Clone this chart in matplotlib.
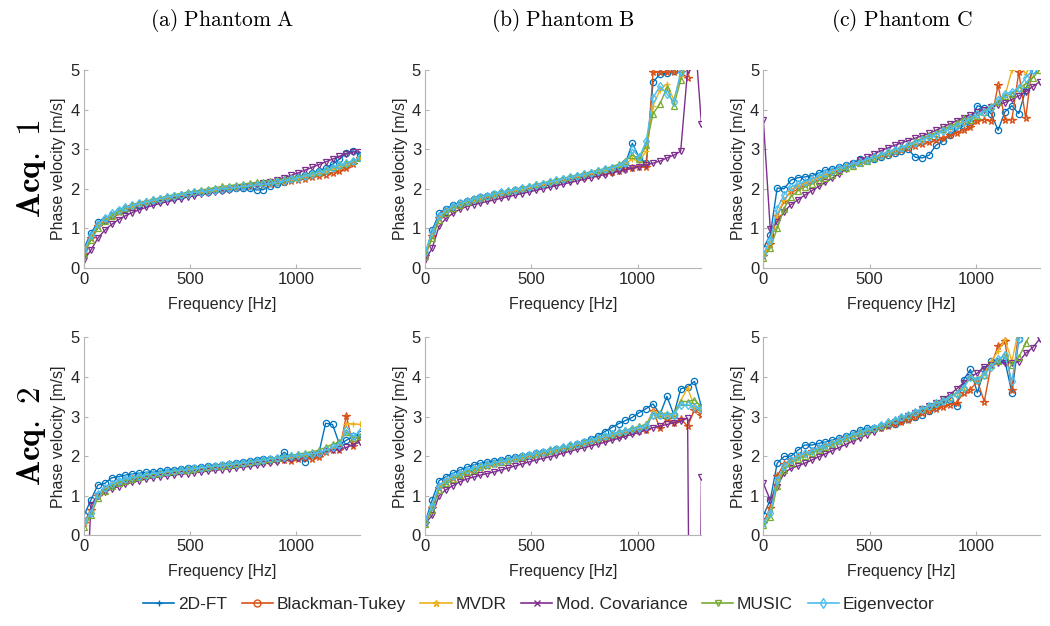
import numpy as np
import matplotlib
matplotlib.use('Agg')
import matplotlib.pyplot as plt
from matplotlib.lines import Line2D

plt.rcParams['font.family'] = ['Liberation Sans', 'DejaVu Sans']
plt.rcParams['mathtext.fontset'] = 'cm'

# frequency grid [Hz]
freq = np.arange(41) * 32.5

methods = ['2D-FT', 'Blackman-Tukey', 'MVDR', 'Mod. Covariance', 'MUSIC', 'Eigenvector']
colors = ['#0072BD', '#D95319', '#EDB120', '#7E2F8E', '#77AC30', '#4DBEEE']
plot_markers = ['o', '*', '+', 'v', '^', 'd']
legend_markers = ['+', 'o', '*', 'x', 'v', 'd']

# ---- Phantom A, Acq. 1
a1_ft = [0.50, 0.88, 1.15, 1.22, 1.35, 1.45, 1.50, 1.55, 1.60, 1.64, 1.68, 1.72, 1.76, 1.80, 1.83, 1.86, 1.89, 1.91, 1.93, 1.96, 1.98,
         2.00, 2.01, 2.02, 2.03, 1.97, 1.98, 2.08, 2.13, 2.18, 2.24, 2.30, 2.35, 2.40, 2.45, 2.52, 2.62, 2.75, 2.90, 2.96, 2.85]
a1_bt = [0.35, 0.75, 1.05, 1.20, 1.32, 1.42, 1.50, 1.56, 1.62, 1.66, 1.70, 1.74, 1.78, 1.81, 1.84, 1.87, 1.90, 1.92, 1.95, 1.97, 2.00,
         2.02, 2.04, 2.06, 2.07, 2.08, 2.10, 2.12, 2.14, 2.17, 2.20, 2.23, 2.26, 2.29, 2.32, 2.36, 2.40, 2.45, 2.52, 2.62, 2.78]
a1_mvdr = [0.40, 0.80, 1.08, 1.22, 1.34, 1.44, 1.51, 1.57, 1.63, 1.67, 1.71, 1.75, 1.79, 1.82, 1.85, 1.88, 1.91, 1.93, 1.96, 1.98, 2.01,
           2.03, 2.05, 2.07, 2.09, 2.11, 2.13, 2.15, 2.18, 2.21, 2.25, 2.28, 2.32, 2.36, 2.40, 2.45, 2.50, 2.56, 2.62, 2.70, 2.80]
a1_mcov = [0.20, 0.45, 0.75, 0.95, 1.10, 1.22, 1.32, 1.40, 1.47, 1.53, 1.58, 1.63, 1.67, 1.71, 1.75, 1.79, 1.82, 1.86, 1.89, 1.92, 1.95,
           1.98, 2.01, 2.04, 2.07, 2.10, 2.14, 2.18, 2.22, 2.28, 2.34, 2.40, 2.47, 2.54, 2.61, 2.68, 2.75, 2.82, 2.88, 2.93, 2.93]
a1_music = [0.35, 0.70, 1.00, 1.18, 1.32, 1.43, 1.51, 1.58, 1.64, 1.69, 1.73, 1.77, 1.81, 1.85, 1.88, 1.91, 1.94, 1.97, 2.00, 2.03, 2.06,
            2.08, 2.10, 2.12, 2.14, 2.16, 2.18, 2.20, 2.22, 2.25, 2.28, 2.31, 2.35, 2.39, 2.43, 2.48, 2.54, 2.60, 2.66, 2.70, 2.78]
a1_eig = [0.45, 0.82, 1.10, 1.25, 1.38, 1.47, 1.53, 1.58, 1.63, 1.67, 1.71, 1.75, 1.79, 1.82, 1.85, 1.88, 1.91, 1.93, 1.95, 1.98, 2.00,
          2.02, 2.04, 2.06, 2.08, 2.10, 2.12, 2.14, 2.17, 2.20, 2.24, 2.28, 2.32, 2.37, 2.42, 2.47, 2.53, 2.60, 2.65, 2.70, 2.80]

# ---- Phantom B, Acq. 1
b1_ft = [0.35, 0.95, 1.38, 1.50, 1.58, 1.65, 1.70, 1.75, 1.79, 1.83, 1.86, 1.89, 1.93, 1.96, 1.99, 2.02, 2.06, 2.10, 2.14, 2.18, 2.22,
         2.26, 2.30, 2.34, 2.38, 2.42, 2.46, 2.50, 2.56, 2.65, 3.15, 2.78, 2.65, 4.70, 4.90, 4.92, 4.98, 5.60, 6.00, 6.20, 6.00]
b1_bt = [0.30, 0.80, 1.25, 1.42, 1.52, 1.60, 1.66, 1.71, 1.76, 1.80, 1.84, 1.88, 1.92, 1.95, 1.98, 2.02, 2.06, 2.10, 2.14, 2.17, 2.20,
         2.24, 2.28, 2.31, 2.34, 2.37, 2.40, 2.43, 2.46, 2.49, 2.52, 2.55, 2.55, 4.95, 4.95, 4.95, 4.95, 4.95, 4.80, 5.50, 5.80]
b1_mvdr = [0.32, 0.85, 1.28, 1.45, 1.55, 1.62, 1.68, 1.73, 1.78, 1.82, 1.86, 1.90, 1.94, 1.97, 2.00, 2.04, 2.08, 2.12, 2.16, 2.20, 2.24,
           2.28, 2.32, 2.36, 2.40, 2.44, 2.48, 2.52, 2.57, 2.63, 2.75, 2.70, 2.95, 4.10, 4.50, 4.65, 4.25, 4.85, 5.30, 5.60, 5.80]
b1_mcov = [0.20, 0.50, 1.05, 1.25, 1.38, 1.48, 1.55, 1.60, 1.64, 1.68, 1.72, 1.76, 1.80, 1.84, 1.88, 1.92, 1.96, 2.00, 2.04, 2.08, 2.12,
           2.16, 2.20, 2.24, 2.28, 2.32, 2.36, 2.40, 2.44, 2.48, 2.52, 2.56, 2.60, 2.65, 2.70, 2.78, 2.85, 2.95, 5.00, 6.00, 3.65]
b1_music = [0.30, 0.75, 1.20, 1.40, 1.52, 1.60, 1.67, 1.73, 1.78, 1.82, 1.87, 1.91, 1.95, 1.99, 2.03, 2.07, 2.11, 2.15, 2.19, 2.23, 2.27,
            2.31, 2.35, 2.39, 2.43, 2.47, 2.51, 2.56, 2.62, 2.70, 2.85, 2.75, 3.10, 3.90, 4.15, 4.55, 4.10, 4.75, 5.30, 5.60, 5.80]
b1_eig = [0.40, 0.90, 1.30, 1.46, 1.56, 1.63, 1.69, 1.74, 1.79, 1.83, 1.87, 1.91, 1.95, 1.98, 2.01, 2.05, 2.09, 2.13, 2.17, 2.21, 2.25,
          2.29, 2.33, 2.37, 2.41, 2.45, 2.49, 2.53, 2.58, 2.65, 3.00, 2.80, 3.20, 4.30, 4.60, 4.40, 4.20, 4.95, 5.40, 5.70, 5.80]

# ---- Phantom C, Acq. 1
c1_ft = [0.50, 0.83, 2.02, 2.00, 2.22, 2.28, 2.30, 2.33, 2.40, 2.47, 2.50, 2.55, 2.60, 2.65, 2.75, 2.72, 2.76, 2.80, 2.85, 2.90, 2.95,
         3.00, 2.80, 2.78, 2.85, 3.10, 3.20, 3.35, 3.50, 3.60, 3.70, 4.10, 4.05, 3.90, 3.48, 3.95, 4.10, 3.90, 4.50, 5.00, 5.30]
c1_bt = [0.30, 0.60, 1.30, 1.70, 1.95, 2.05, 2.12, 2.20, 2.28, 2.35, 2.42, 2.48, 2.55, 2.60, 2.66, 2.71, 2.77, 2.83, 2.88, 2.93, 2.98,
         3.03, 3.08, 3.13, 3.18, 3.23, 3.28, 3.35, 3.42, 3.48, 3.55, 3.72, 3.75, 3.72, 4.62, 3.75, 3.75, 4.95, 3.78, 5.20, 5.50]
c1_mvdr = [0.30, 0.65, 1.35, 1.72, 1.96, 2.06, 2.13, 2.21, 2.29, 2.36, 2.43, 2.50, 2.57, 2.62, 2.68, 2.73, 2.80, 2.87, 2.93, 3.00, 3.05,
           3.12, 3.20, 3.27, 3.33, 3.40, 3.47, 3.55, 3.62, 3.70, 3.85, 3.95, 4.00, 4.05, 4.20, 4.35, 5.00, 5.20, 4.90, 5.20, 5.40]
c1_mcov = [3.74, 0.98, 1.16, 1.42, 1.60, 1.72, 1.84, 1.95, 2.06, 2.16, 2.27, 2.38, 2.50, 2.62, 2.73, 2.80, 2.88, 2.96, 3.03, 3.10, 3.16,
           3.22, 3.28, 3.34, 3.40, 3.48, 3.56, 3.64, 3.72, 3.80, 3.87, 3.94, 4.00, 4.06, 4.12, 4.18, 4.26, 4.35, 4.45, 4.58, 4.70]
c1_music = [0.25, 0.50, 1.00, 1.50, 1.80, 1.95, 2.05, 2.12, 2.20, 2.28, 2.36, 2.44, 2.52, 2.58, 2.65, 2.71, 2.78, 2.85, 2.92, 2.99, 3.05,
            3.12, 3.20, 3.28, 3.35, 3.42, 3.50, 3.58, 3.66, 3.78, 3.75, 3.85, 3.95, 4.10, 4.20, 4.35, 4.40, 4.55, 4.65, 4.80, 5.00]
c1_eig = [0.35, 0.70, 1.50, 1.85, 2.05, 2.12, 2.18, 2.25, 2.32, 2.40, 2.46, 2.52, 2.58, 2.63, 2.69, 2.74, 2.80, 2.86, 2.92, 2.98, 3.04,
          3.10, 3.17, 3.24, 3.30, 3.37, 3.45, 3.52, 3.60, 3.68, 3.78, 3.88, 3.95, 4.05, 4.25, 4.40, 4.45, 4.55, 4.80, 5.00, 5.20]

# ---- Phantom A, Acq. 2
a2_ft = [0.50, 0.89, 1.27, 1.31, 1.45, 1.48, 1.52, 1.55, 1.57, 1.59, 1.60, 1.62, 1.64, 1.66, 1.68, 1.69, 1.71, 1.72, 1.74, 1.76, 1.78,
         1.80, 1.82, 1.84, 1.87, 1.90, 1.92, 1.93, 1.93, 2.10, 1.97, 1.98, 1.85, 2.03, 2.06, 2.83, 2.80, 2.30, 2.40, 2.50, 2.55]
a2_bt = [0.30, 0.65, 1.00, 1.15, 1.25, 1.32, 1.38, 1.42, 1.46, 1.50, 1.53, 1.56, 1.58, 1.60, 1.62, 1.64, 1.66, 1.68, 1.70, 1.72, 1.74,
         1.76, 1.78, 1.80, 1.82, 1.84, 1.86, 1.88, 1.90, 1.90, 1.88, 1.92, 1.95, 1.93, 1.97, 2.10, 2.15, 2.15, 3.02, 2.25, 2.45]
a2_mvdr = [0.25, 0.60, 1.00, 1.15, 1.26, 1.33, 1.39, 1.43, 1.47, 1.51, 1.54, 1.56, 1.59, 1.61, 1.63, 1.65, 1.67, 1.69, 1.71, 1.73, 1.75,
           1.77, 1.79, 1.81, 1.83, 1.86, 1.88, 1.91, 1.93, 1.96, 1.98, 2.00, 2.02, 2.04, 2.07, 2.12, 2.20, 2.25, 2.82, 2.82, 2.80]
a2_mcov = [-3.00, 0.76, 1.00, 1.10, 1.17, 1.23, 1.29, 1.34, 1.38, 1.42, 1.45, 1.48, 1.50, 1.52, 1.54, 1.56, 1.58, 1.60, 1.62, 1.64, 1.66,
           1.68, 1.70, 1.72, 1.74, 1.77, 1.80, 1.83, 1.86, 1.89, 1.92, 1.95, 1.98, 2.02, 2.06, 2.12, 2.16, 2.18, 2.22, 2.30, 2.35]
a2_music = [0.20, 0.50, 0.95, 1.12, 1.24, 1.32, 1.38, 1.43, 1.47, 1.51, 1.54, 1.57, 1.60, 1.62, 1.64, 1.66, 1.68, 1.70, 1.72, 1.74, 1.76,
            1.78, 1.80, 1.82, 1.85, 1.88, 1.90, 1.93, 1.96, 1.99, 2.02, 2.05, 2.08, 2.11, 2.15, 2.22, 2.30, 2.35, 2.60, 2.45, 2.50]
a2_eig = [0.35, 0.55, 1.05, 1.20, 1.30, 1.37, 1.42, 1.46, 1.50, 1.53, 1.56, 1.58, 1.61, 1.63, 1.65, 1.67, 1.69, 1.71, 1.73, 1.75, 1.77,
          1.79, 1.81, 1.83, 1.85, 1.88, 1.90, 1.93, 1.95, 1.98, 2.00, 2.02, 2.04, 2.06, 2.09, 2.15, 2.22, 2.28, 2.65, 2.50, 2.62]

# ---- Phantom B, Acq. 2
b2_ft = [0.34, 0.89, 1.38, 1.48, 1.57, 1.65, 1.72, 1.78, 1.82, 1.85, 1.88, 1.91, 1.94, 1.97, 2.00, 2.03, 2.07, 2.10, 2.13, 2.17, 2.21,
         2.25, 2.30, 2.36, 2.44, 2.52, 2.62, 2.72, 2.82, 2.90, 2.98, 3.10, 3.20, 3.32, 3.05, 3.51, 3.05, 3.70, 3.75, 3.89, 3.25]
b2_bt = [0.30, 0.70, 1.20, 1.35, 1.45, 1.53, 1.60, 1.66, 1.71, 1.76, 1.80, 1.84, 1.88, 1.92, 1.96, 2.00, 2.04, 2.08, 2.12, 2.16, 2.20,
         2.24, 2.28, 2.32, 2.36, 2.40, 2.44, 2.48, 2.52, 2.56, 2.60, 2.63, 2.66, 3.15, 2.70, 2.95, 2.83, 2.95, 2.75, 3.17, 3.05]
b2_mvdr = [0.32, 0.75, 1.22, 1.37, 1.47, 1.55, 1.62, 1.68, 1.73, 1.78, 1.82, 1.86, 1.90, 1.94, 1.98, 2.02, 2.06, 2.10, 2.14, 2.18, 2.22,
           2.26, 2.30, 2.35, 2.40, 2.45, 2.50, 2.55, 2.60, 2.65, 2.70, 2.75, 2.80, 3.15, 3.05, 3.10, 3.05, 3.40, 3.72, 3.25, 3.25]
b2_mcov = [0.30, 0.50, 1.00, 1.15, 1.25, 1.35, 1.42, 1.47, 1.52, 1.56, 1.60, 1.65, 1.70, 1.75, 1.80, 1.85, 1.90, 1.94, 1.98, 2.02, 2.08,
           2.12, 2.17, 2.21, 2.26, 2.30, 2.35, 2.40, 2.45, 2.50, 2.55, 2.60, 2.66, 2.72, 2.76, 2.80, 2.84, 2.88, 2.96, -20.0, 1.48]
b2_music = [0.28, 0.65, 1.15, 1.32, 1.43, 1.52, 1.60, 1.66, 1.72, 1.77, 1.82, 1.86, 1.90, 1.94, 1.98, 2.02, 2.06, 2.10, 2.14, 2.18, 2.22,
            2.26, 2.30, 2.35, 2.40, 2.45, 2.50, 2.55, 2.60, 2.65, 2.70, 2.75, 2.80, 3.05, 3.08, 3.05, 3.08, 3.38, 3.38, 3.42, 3.25]
b2_eig = [0.35, 0.75, 1.25, 1.40, 1.50, 1.58, 1.65, 1.70, 1.75, 1.79, 1.83, 1.87, 1.91, 1.95, 1.99, 2.03, 2.07, 2.11, 2.15, 2.19, 2.23,
          2.27, 2.31, 2.35, 2.40, 2.45, 2.50, 2.55, 2.60, 2.64, 2.68, 2.72, 2.76, 3.05, 3.05, 3.05, 3.05, 3.30, 3.30, 3.25, 3.20]

# ---- Phantom C, Acq. 2
c2_ft = [0.50, 0.89, 1.82, 1.99, 2.00, 2.15, 2.28, 2.28, 2.32, 2.36, 2.41, 2.45, 2.50, 2.58, 2.66, 2.70, 2.72, 2.75, 2.78, 2.82, 2.88,
         2.95, 3.00, 3.05, 3.15, 3.25, 3.34, 3.43, 3.26, 3.93, 4.19, 3.60, 4.19, 4.40, 4.40, 4.40, 3.60, 4.95, 5.30, 5.50, 5.60]
c2_bt = [0.30, 0.70, 1.50, 1.80, 1.90, 1.98, 2.05, 2.12, 2.19, 2.26, 2.33, 2.40, 2.46, 2.52, 2.58, 2.63, 2.68, 2.72, 2.76, 2.80, 2.85,
         2.92, 3.00, 3.08, 3.15, 3.20, 3.25, 3.30, 3.35, 3.60, 3.68, 3.90, 3.38, 4.30, 4.78, 4.90, 3.68, 5.20, 5.40, 5.60, 5.80]
c2_mvdr = [0.30, 0.60, 1.35, 1.72, 1.86, 1.96, 2.03, 2.10, 2.17, 2.25, 2.32, 2.40, 2.47, 2.53, 2.60, 2.65, 2.72, 2.78, 2.85, 2.92, 2.98,
           3.05, 3.12, 3.20, 3.27, 3.35, 3.42, 3.50, 3.60, 3.75, 4.00, 3.95, 4.10, 4.40, 4.65, 4.95, 4.40, 5.20, 5.40, 5.60, 5.80]
c2_mcov = [1.31, 0.89, 1.23, 1.57, 1.69, 1.75, 1.82, 1.90, 1.98, 2.06, 2.14, 2.22, 2.30, 2.38, 2.46, 2.54, 2.62, 2.70, 2.78, 2.86, 2.94,
           3.02, 3.10, 3.18, 3.26, 3.34, 3.45, 3.55, 3.70, 3.85, 4.00, 4.10, 4.25, 4.30, 4.35, 4.36, 4.36, 4.38, 4.60, 4.74, 4.95]
c2_music = [0.25, 0.45, 1.25, 1.65, 1.82, 1.93, 2.00, 2.08, 2.15, 2.23, 2.30, 2.38, 2.45, 2.52, 2.58, 2.64, 2.70, 2.77, 2.84, 2.91, 2.98,
            3.05, 3.12, 3.20, 3.27, 3.35, 3.42, 3.50, 3.60, 3.75, 4.00, 3.95, 4.05, 4.30, 4.40, 4.57, 4.30, 4.50, 4.85, 5.20, 5.40]
c2_eig = [0.30, 0.55, 1.40, 1.75, 1.90, 2.00, 2.07, 2.13, 2.20, 2.27, 2.34, 2.41, 2.48, 2.54, 2.60, 2.66, 2.72, 2.78, 2.85, 2.92, 2.98,
          3.05, 3.12, 3.19, 3.26, 3.33, 3.40, 3.48, 3.58, 3.72, 4.00, 3.92, 4.05, 4.25, 4.45, 4.55, 3.90, 4.95, 5.20, 5.40, 5.60]

col_titles = [r'$\mathrm{(a)\ Phantom\ A}$', r'$\mathrm{(b)\ Phantom\ B}$', r'$\mathrm{(c)\ Phantom\ C}$']
row_titles = [r'$\mathbf{Acq.\ 1}$', r'$\mathbf{Acq.\ 2}$']

panels = [
    [[a1_ft, a1_bt, a1_mvdr, a1_mcov, a1_music, a1_eig],
     [b1_ft, b1_bt, b1_mvdr, b1_mcov, b1_music, b1_eig],
     [c1_ft, c1_bt, c1_mvdr, c1_mcov, c1_music, c1_eig]],
    [[a2_ft, a2_bt, a2_mvdr, a2_mcov, a2_music, a2_eig],
     [b2_ft, b2_bt, b2_mvdr, b2_mcov, b2_music, b2_eig],
     [c2_ft, c2_bt, c2_mvdr, c2_mcov, c2_music, c2_eig]],
]

fig = plt.figure(figsize=(10.5, 6.26), dpi=100)

lefts = [0.080, 0.405, 0.727]
bottoms = [0.572, 0.145]
w, h = 0.263, 0.316
txt = '#262626'
axc = '#b4b4b4'

for r in range(2):
    for c in range(3):
        ax = fig.add_axes([lefts[c], bottoms[r], w, h])
        for k in range(6):
            ax.plot(freq, panels[r][c][k], color=colors[k], marker=plot_markers[k],
                    markersize=4.5 if plot_markers[k] != '*' else 5.5,
                    markerfacecolor='none', markeredgewidth=0.9, linewidth=1.0)
        ax.set_xlim(0, 1300)
        ax.set_ylim(0, 5)
        ax.set_xticks([0, 500, 1000])
        ax.set_yticks([0, 1, 2, 3, 4, 5])
        for s in ['top', 'right']:
            ax.spines[s].set_visible(False)
        for s in ['left', 'bottom']:
            ax.spines[s].set_color(axc)
            ax.spines[s].set_linewidth(0.8)
        ax.tick_params(direction='in', length=3, color=axc, labelsize=12, labelcolor=txt, pad=3)
        ax.set_xlabel('Frequency [Hz]', fontsize=11.5, color=txt, labelpad=7)
        ax.set_ylabel('Phase velocity [m/s]', fontsize=11.5, color=txt, labelpad=3)

for c in range(3):
    fig.text(lefts[c] + w / 2, 0.968, col_titles[c], ha='center', va='center', fontsize=15.5)
for r in range(2):
    fig.text(0.030, bottoms[r] + h / 2, row_titles[r], ha='center', va='center',
             rotation=90, fontsize=24)

handles = [Line2D([], [], color=colors[k], marker=legend_markers[k], markersize=5,
                  markerfacecolor='none', linewidth=1.2) for k in range(6)]
fig.legend(handles, methods, loc='center', bbox_to_anchor=(0.513, 0.034), ncol=6,
           frameon=False, fontsize=12.5, handlelength=1.8, handletextpad=0.2,
           columnspacing=0.85, labelcolor=txt)

fig.savefig('out.png', dpi=100, facecolor='white')
